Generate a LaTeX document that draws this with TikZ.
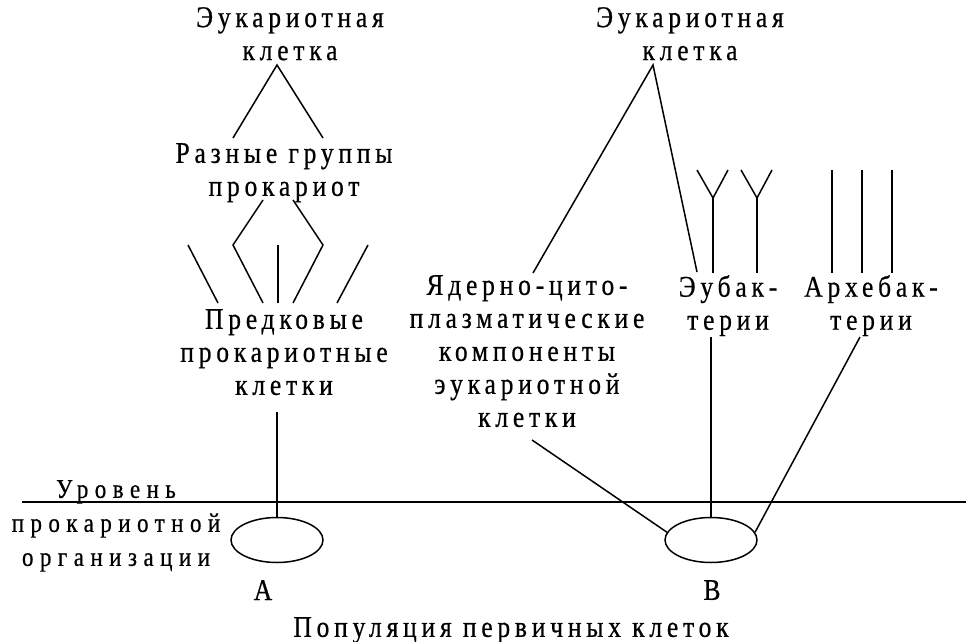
\documentclass[tikz,border=0pt]{standalone}
\usepackage{fontspec}
\setmainfont{Liberation Serif}[LetterSpace=16, FakeStretch=0.85, FakeBold=0.6]
\usetikzlibrary{shapes.geometric}

\tikzset{
    lbl/.style={inner sep=0pt, anchor=north, align=center, font=\fontsize{30}{33}\selectfont},
    side/.style={lbl, font=\fontsize{27}{34}\selectfont\addfontfeatures{LetterSpace=24}},
    cell/.style={draw, ellipse, line width=1.5pt, minimum width=92pt, minimum height=45pt, inner sep=0pt},
    line/.style={line width=1.5pt}
}

\begin{document}
\begin{tikzpicture}[x=1pt, y=-1pt]
                    \useasboundingbox (0, 0) rectangle (966, 642);

                    % left tree
                    \node[lbl] (eukL) at (290, 7) {Эукариотная\\клетка};
                    \node[lbl] (groups) at (284, 143) {Разные группы\\прокариот};
                    \node[lbl] (ancest) at (284, 309) {Предковые\\прокариотные\\клетки};

                    \coordinate (eukLtop) at (277, 65);
                    \coordinate (grpL) at (233, 138);
                    \coordinate (grpR) at (323, 138);
                    \draw[line] (grpL) -- (eukLtop) -- (grpR);

                    \coordinate (a1) at (263, 200);
                    \coordinate (a2) at (233, 245);
                    \coordinate (a3) at (263, 303);
                    \coordinate (b1) at (293, 200);
                    \coordinate (b2) at (323, 245);
                    \coordinate (b3) at (293, 303);
                    \draw[line] (a1) -- (a2) -- (a3);
                    \draw[line] (b1) -- (b2) -- (b3);
                    \coordinate (c1) at (278, 245);
                    \coordinate (c2) at (278, 303);
                    \draw[line] (c1) -- (c2);
                    \coordinate (d1) at (188, 245);
                    \coordinate (d2) at (218, 303);
                    \draw[line] (d1) -- (d2);
                    \coordinate (e1) at (368, 245);
                    \coordinate (e2) at (337, 303);
                    \draw[line] (e1) -- (e2);

                    % right tree
                    \node[lbl] (eukR) at (690, 7) {Эукариотная\\клетка};
                    \node[lbl] (nucleo) at (527, 275) {Ядерно-цито-\\плазматические\\компоненты\\эукариотной\\клетки};
                    \node[lbl] (eubac) at (728, 275) {Эубак-\\терии};
                    \node[lbl] (archae) at (871, 275) {Архебак-\\терии};

                    \coordinate (eukRtop) at (653, 65);
                    \coordinate (nucTop) at (533, 273);
                    \coordinate (eubTop) at (697, 272);
                    \draw[line] (nucTop) -- (eukRtop) -- (eubTop);

                    \foreach \x in {713, 757} {
                        \draw[line] (\x-16, 170) -- (\x, 198) -- (\x+15, 170);
                        \draw[line] (\x, 198) -- (\x, 273);
                    }
                    \foreach \x in {832, 862, 892}
                        \draw[line] (\x, 170) -- (\x, 273);

                    % level
                    \coordinate (lvlL) at (22, 502);
                    \coordinate (lvlR) at (966, 502);
                    \draw[line] (lvlL) -- (lvlR);
                    \node[side] (level) at (116, 480) {Уровень\\прокариотной\\организации};

                    % primary cells
                    \node[cell] (popA) at (277, 540) {};
                    \node[cell] (popB) at (711, 540) {};
                    \node[lbl] (labA) at (263, 580) {A};
                    \node[lbl] (labB) at (712, 580) {B};
                    \node[lbl] (popul) at (511, 617) {Популяция первичных клеток};

                    \coordinate (ancBot) at (277, 412);
                    \draw[line] (ancBot) -- (popA.north);
                    \coordinate (nucBot) at (532, 440);
                    \draw[line] (nucBot) -- (popB.170);
                    \coordinate (eubBot) at (711, 337);
                    \draw[line] (eubBot) -- (popB.north);
                    \coordinate (archBot) at (860, 337);
                    \draw[line] (archBot) -- (popB.10);
                \end{tikzpicture}
\end{document}
